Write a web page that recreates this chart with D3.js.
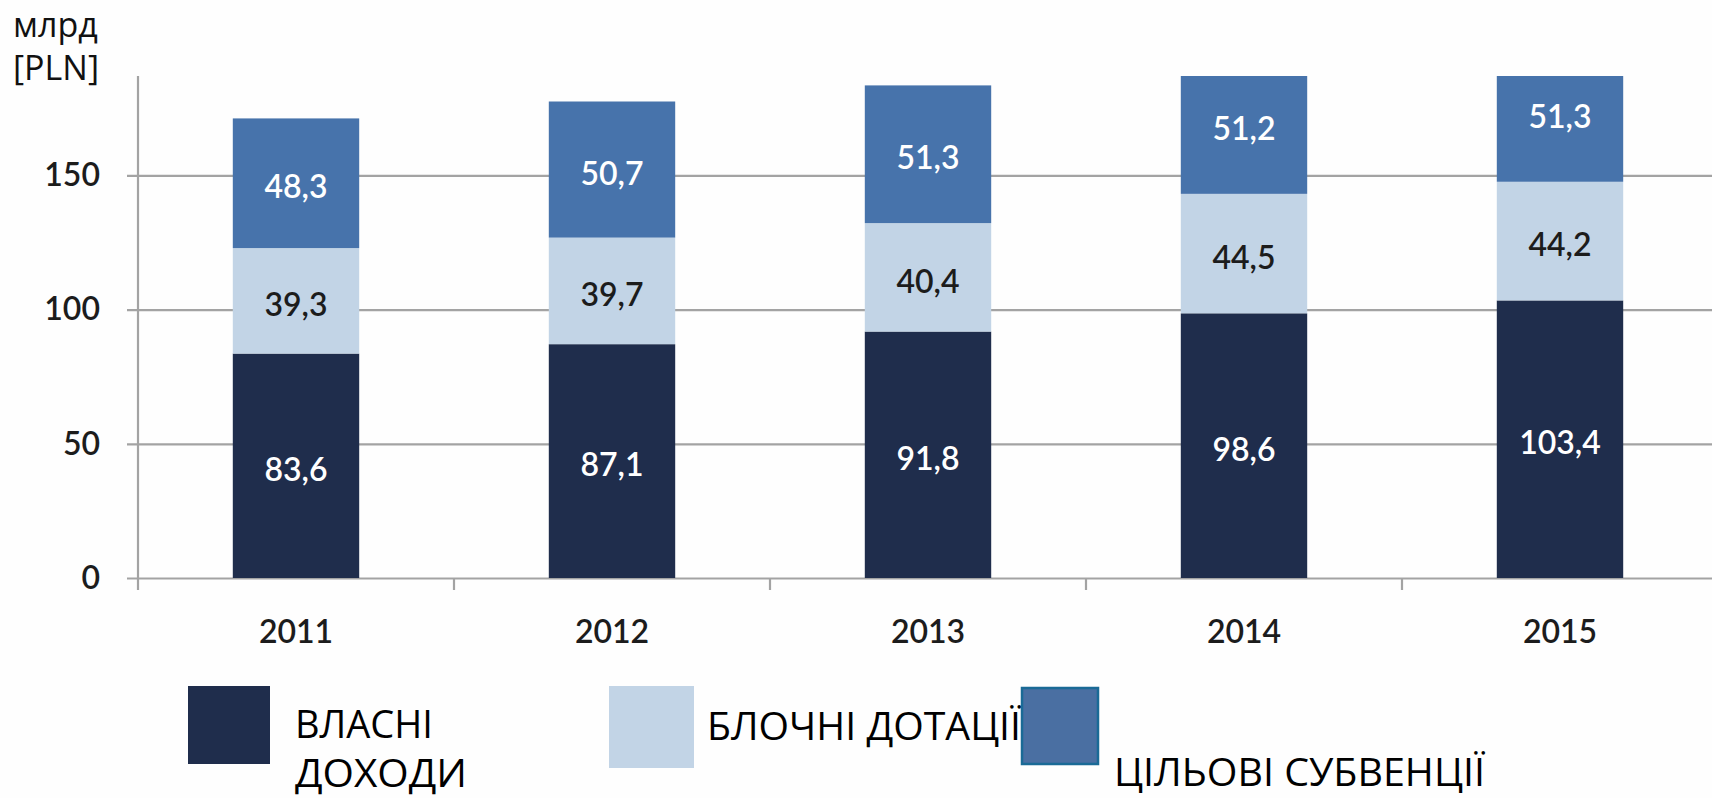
<!DOCTYPE html>
<html>
<head>
<meta charset="utf-8">
<script src="https://cdn.jsdelivr.net/npm/d3@7"></script>
<style>
  html, body { margin: 0; padding: 0; background: #fefefe; }
  svg { display: block; }
</style>
</head>
<body>
<div id="chart"></div>
<script>
// data (млрд PLN)
var years = ["2011", "2012", "2013", "2014", "2015"];
var ownRevenue = [83.6, 87.1, 91.8, 98.6, 103.4];
var blockGrants = [39.3, 39.7, 40.4, 44.5, 44.2];
var targetedSubsidies = [48.3, 50.7, 51.3, 51.2, 51.3];
var yTicks = [0, 50, 100, 150];
var seriesKeys = ["own", "block", "target"];
var seriesLines = [["ВЛАСНІ", "ДОХОДИ"], ["БЛОЧНІ ДОТАЦІЇ"], ["ЦІЛЬОВІ СУБВЕНЦІЇ"]];
var yTitle = ["млрд", "[PLN]"];

function stackedBars(config) {
  var defaults = {
    width: 1712,
    height: 798,
    margin: { top: 76, right: -6, bottom: 220, left: 138 },
    y_max: 187,
    colors: ["#1f2d4c", "#c2d4e6", "#4773ab"],
    label_colors: ["#ffffff", "#1c1c1c", "#ffffff"],
    num_font: "Lato, 'Open Sans', sans-serif",
  };
  config = Object.assign({}, defaults, config);
  var margin = config.margin,
    width = config.width - margin.left - margin.right,
    height = config.height - margin.top - margin.bottom;

  var rows = years.map(function (y, i) {
    return { year: y, own: ownRevenue[i], block: blockGrants[i], target: targetedSubsidies[i] };
  });
  var stacked = d3.stack().keys(seriesKeys)(rows);

  var x = d3.scaleBand().domain(years).range([0, width]).paddingInner(0.6).paddingOuter(0.3);
  var y = d3.scaleLinear().domain([0, config.y_max]).range([height, 0]);
  var fmt = function (v) { return d3.format(".1f")(v).replace(".", ","); };

  d3.select(config.placeholder + " svg").remove();
  var svg = d3.select(config.placeholder).append("svg")
    .attr("width", config.width)
    .attr("height", config.height);

  svg.append("defs").append("clipPath").attr("id", "plot-clip")
    .append("rect").attr("x", -20).attr("y", 0).attr("width", width + 40).attr("height", height + 20);

  var g = svg.append("g").attr("transform", "translate(" + margin.left + "," + margin.top + ")");

  // gridlines + y ticks
  var yAxis = g.append("g").call(d3.axisLeft(y).tickValues(yTicks).tickSize(-(width + 11)).tickPadding(26).tickFormat(d3.format("d")));
  yAxis.select(".domain").remove();
  yAxis.selectAll(".tick line").attr("x1", -11).attr("x2", config.width).attr("stroke", "#a3a3a3").attr("stroke-width", 2.2);
  yAxis.selectAll(".tick text").attr("x", -38).attr("fill", "#1c1c1c")
    .style("font-family", config.num_font).style("font-size", "32px").style("font-weight", 600);

  // y axis line
  g.append("line").attr("x1", 0).attr("x2", 0).attr("y1", 0).attr("y2", height + 12)
    .attr("stroke", "#a3a3a3").attr("stroke-width", 2.2);

  // category boundary ticks
  g.append("g").selectAll("line").data(years).enter().append("line")
    .attr("x1", function (d) { return x(d) + x.bandwidth() + (x.step() - x.bandwidth()) / 2; })
    .attr("x2", function (d) { return x(d) + x.bandwidth() + (x.step() - x.bandwidth()) / 2; })
    .attr("y1", height).attr("y2", height + 12)
    .attr("stroke", "#a3a3a3").attr("stroke-width", 2.2);

  // x labels
  g.append("g").selectAll("text").data(years).enter().append("text")
    .attr("x", function (d) { return x(d) + x.bandwidth() / 2; })
    .attr("y", height + 65)
    .attr("text-anchor", "middle").attr("fill", "#1c1c1c")
    .style("font-family", config.num_font).style("font-size", "32px").style("font-weight", 600)
    .text(function (d) { return d; });

  // bars
  var bars = g.append("g").attr("clip-path", "url(#plot-clip)");
  stacked.forEach(function (layer, i) {
    bars.selectAll("rect.s" + i).data(layer).enter().append("rect")
      .attr("class", "s" + i)
      .attr("x", function (d) { return x(d.data.year); })
      .attr("width", x.bandwidth())
      .attr("y", function (d) { return y(d[1]); })
      .attr("height", function (d) { return y(d[0]) - y(d[1]); })
      .attr("fill", config.colors[i]);
  });

  // value labels
  stacked.forEach(function (layer, i) {
    g.append("g").selectAll("text").data(layer).enter().append("text")
      .attr("x", function (d) { return x(d.data.year) + x.bandwidth() / 2; })
      .attr("y", function (d) { return y((d[0] + d[1]) / 2) + 4; })
      .attr("dy", "0.35em")
      .attr("text-anchor", "middle")
      .attr("fill", config.label_colors[i])
      .style("font-family", config.num_font).style("font-size", "32px").style("font-weight", 600)
      .text(function (d) { return fmt(d[1] - d[0]); });
  });

  // y title
  svg.append("g").selectAll("text").data(yTitle).enter().append("text")
    .attr("x", 13).attr("y", function (d, i) { return 37 + i * 43; })
    .attr("fill", "#111")
    .style("font-family", "'Open Sans', sans-serif").style("font-size", "34px")
    .text(function (d) { return d; });

  // legend (as in the source, a bit uneven)
  var legendBoxes = [
    { x: 188, y: 686, w: 82, h: 78, stroke: "none" },
    { x: 609, y: 686, w: 85, h: 82, stroke: "none" },
    { x: 1022, y: 688, w: 76, h: 76, stroke: "#1a6a96" },
  ];
  var legendText = [
    [{ x: 295, y: 738, len: 138 }, { x: 295, y: 787, len: 172 }],
    [{ x: 707, y: 740, len: 314 }],
    [{ x: 1114, y: 786, len: 371 }],
  ];
  var legend = svg.append("g");
  legendBoxes.forEach(function (b, i) {
    legend.append("rect")
      .attr("x", b.x).attr("y", b.y).attr("width", b.w).attr("height", b.h)
      .attr("fill", i === 2 ? "#4a6fa2" : config.colors[i])
      .attr("stroke", b.stroke).attr("stroke-width", 2.5);
    seriesLines[i].forEach(function (line, j) {
      var t = legendText[i][j];
      legend.append("text")
        .attr("x", t.x).attr("y", t.y)
        .attr("textLength", t.len).attr("lengthAdjust", "spacingAndGlyphs")
        .attr("fill", "#000")
        .style("font-family", "'Open Sans', sans-serif").style("font-size", "39px")
        .text(line);
    });
  });
}

stackedBars({ placeholder: "#chart" });
</script>
</body>
</html>
